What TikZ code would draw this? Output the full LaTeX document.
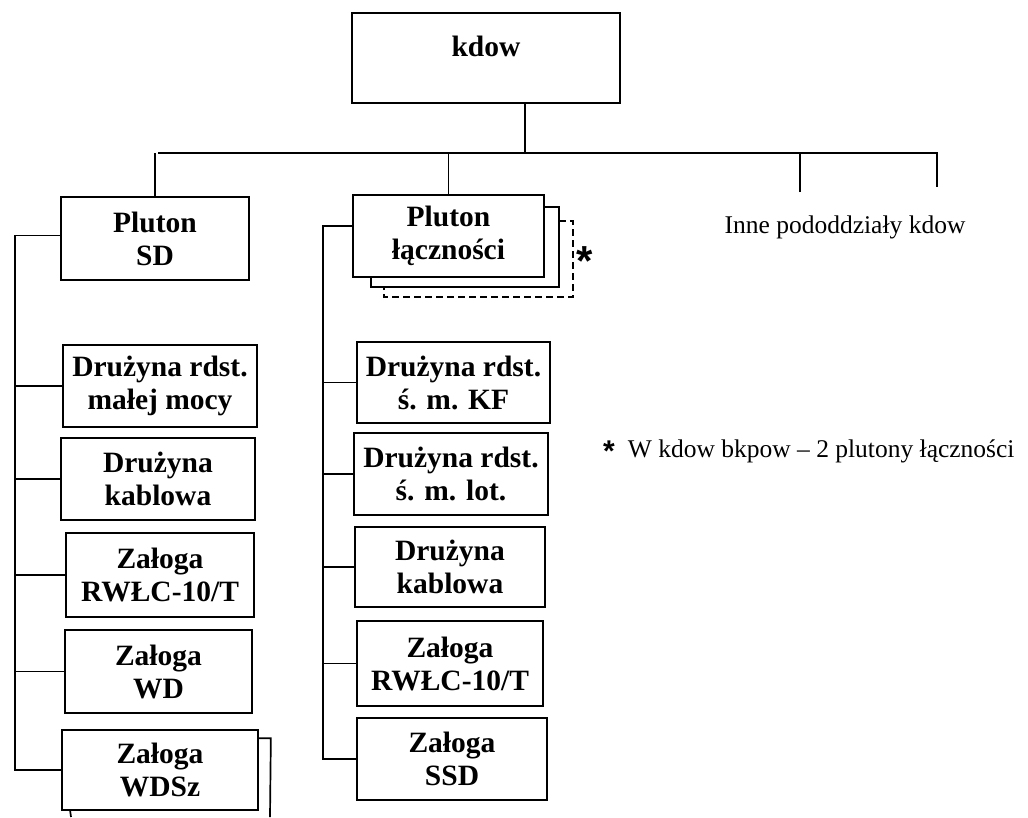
\documentclass[tikz,border=0pt]{standalone}
\usepackage{fontspec}
\setmainfont{Liberation Serif}
\newfontfamily\astfont{Liberation Sans}
\usetikzlibrary{calc}
\begin{document}
\begin{tikzpicture}[x=1pt,y=-1pt,line width=1.7pt,
  box/.style={draw,line width=1.7pt,inner sep=0pt,align=center,
    font=\bfseries\fontsize{29.5}{33}\selectfont},
  plain/.style={inner sep=0pt,font=\fontsize{25.5}{30}\selectfont},
  conn/.style={line width=1.7pt},
  ghost/.style={line width=1.7pt},
  dashghost/.style={line width=1.7pt,dash pattern=on 7pt off 4pt}]
\useasboundingbox (0,0) rectangle (1028,817);
% top
\node[box,minimum width=268pt,minimum height=90pt] (kdow) at (486,58) {};
\node[inner sep=0pt,font=\bfseries\fontsize{29.5}{33}\selectfont] (kdowt) at (486,46) {kdow};
% level 2
\node[box,minimum width=188pt,minimum height=83pt] (PSD) at (155,238.5) {Pluton\\SD};
\node[box,minimum width=191pt,minimum height=82pt,fill=white] (PL) at (448.5,236) {Pluton\\łączności};
\node[plain] (inne) at (845,227) {Inne pododdziały kdow};
% left column
\node[box,minimum width=194pt,minimum height=82pt] (L1) at (160,386) {Drużyna rdst.\\małej mocy};
\node[box,minimum width=194pt,minimum height=82pt] (L2) at (158,479) {Drużyna\\kablowa};
\node[box,minimum width=188pt,minimum height=84pt] (L3) at (160,575) {Załoga\\RWŁC-10/T};
\node[box,minimum width=187pt,minimum height=83pt] (L4) at (158.5,671.5) {Załoga\\WD};
\node[box,minimum width=196pt,minimum height=80pt] (L5) at (160,770) {Załoga\\WDSz};
% middle column
\node[box,minimum width=193pt,minimum height=81pt] (M1) at (453.5,382.5) {Drużyna rdst.\\ś. m. KF};
\node[box,minimum width=194pt,minimum height=82pt] (M2) at (451,474) {Drużyna rdst.\\ś. m. lot.};
\node[box,minimum width=190pt,minimum height=80pt] (M3) at (450,567) {Drużyna\\kablowa};
\node[box,minimum width=186pt,minimum height=85pt] (M4) at (450,663.5) {Załoga\\RWŁC-10/T};
\node[box,minimum width=190pt,minimum height=82pt] (M5) at (452,759) {Załoga\\SSD};
% stacked copies
\draw[ghost] ([yshift=-13pt]PL.north east) -- ++(14,0) -- ++(0,80) -- ++(-188,0) -- ++(0,-11);
\draw[dashghost] ([xshift=14pt,yshift=-27pt]PL.north east) -- ++(14,0) -- ++(0,76) -- ++(-189,0) -- ++(0,-10);
\node[inner sep=0pt,font=\astfont\bfseries\fontsize{42}{42}\selectfont] (ast1) at (585,261) {*};
\draw[ghost] ([yshift=-9pt]L5.north east) -- ++(12,0) -- (270,817);
\draw[ghost] ([xshift=9pt]L5.south west) -- (71,817);
% legend
\node[inner sep=0pt,font=\astfont\bfseries\fontsize{30}{30}\selectfont] (ast2) at (609,451) {*};
\node[plain,anchor=base west] (legend) at (627,457) {W kdow bkpow – 2 plutony łączności};
% connectors
\coordinate (busL) at (158,153);
\coordinate (busR) at (937,153);
\coordinate (j) at (525,153);
\coordinate (d1) at (800,192);
\coordinate (d2) at (937,187);
\coordinate (sL) at (15,0);
\coordinate (sM) at (323,0);
\draw[conn] (kdow.south -| j) -- (j);
\draw[conn] (busL) -- (busR) -- (d2);
\draw[conn] (PSD.north) -- (PSD.north |- busL);
\draw[conn] (PL.north) -- (PL.north |- busL);
\draw[conn] (d1) -- (d1 |- busL);
\draw[conn] ([yshift=3pt]PSD.west) -- ([yshift=3pt]PSD.west -| sL) -- (L5.west -| sL) -- (L5.west);
\foreach \n in {L1,L2,L3,L4} \draw[conn] (\n.west) -- (\n.west -| sL);
\draw[conn] ([yshift=10pt]PL.west) -- ([yshift=10pt]PL.west -| sM) -- (M5.west -| sM) -- (M5.west);
\foreach \n in {M1,M2,M3,M4} \draw[conn] (\n.west) -- (\n.west -| sM);
\end{tikzpicture}
\end{document}
